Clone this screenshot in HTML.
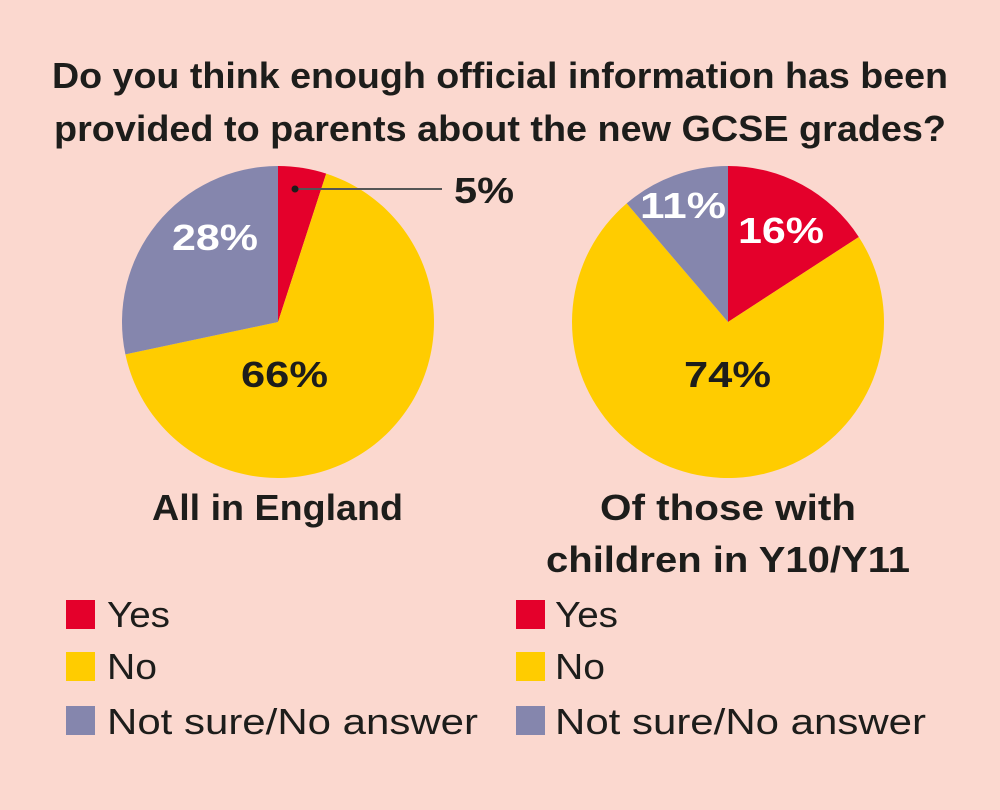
<!DOCTYPE html>
<html><head><style>
body{margin:0;background:#fbd8cf;}
svg{display:block}
text{font-family:"Liberation Sans",sans-serif;font-weight:bold;fill:#1d1d1b}
.n{font-weight:normal}
</style></head><body>
<svg width="1000" height="810" viewBox="0 0 1000 810">
<rect width="1000" height="810" fill="#fbd8cf"/>
<text x="52" y="88" font-size="36" textLength="896" lengthAdjust="spacingAndGlyphs">Do you think enough official information has been</text>
<text x="54" y="141" font-size="36" textLength="892" lengthAdjust="spacingAndGlyphs">provided to parents about the new GCSE grades?</text>
<path d="M278,322 L278,166 A156,156 0 0 1 326.2,173.6 Z" fill="#e4002b"/>
<path d="M278,322 L326.2,173.6 A156,156 0 1 1 125.4,354.4 Z" fill="#ffcc00"/>
<path d="M278,322 L125.4,354.4 A156,156 0 0 1 278,166 Z" fill="#8586ad"/>
<line x1="295" y1="189" x2="442" y2="189" stroke="#555" stroke-width="2"/>
<circle cx="295" cy="189" r="3.5" fill="#1d1d1b"/>
<text x="454" y="203" font-size="36" textLength="60" lengthAdjust="spacingAndGlyphs">5%</text>
<text x="172" y="250" font-size="36" textLength="86" lengthAdjust="spacingAndGlyphs" style="fill:#fff">28%</text>
<text x="241" y="387" font-size="36" textLength="87" lengthAdjust="spacingAndGlyphs">66%</text>
<text x="152" y="520" font-size="36" textLength="251" lengthAdjust="spacingAndGlyphs">All in England</text>
<path d="M728,322 L728,166 A156,156 0 0 1 858.8,237 Z" fill="#e4002b"/>
<path d="M728,322 L858.8,237 A156,156 0 1 1 626.7,203.4 Z" fill="#ffcc00"/>
<path d="M728,322 L626.7,203.4 A156,156 0 0 1 728,166 Z" fill="#8586ad"/>
<text x="640" y="218" font-size="36" textLength="86" lengthAdjust="spacingAndGlyphs" style="fill:#fff">11%</text>
<text x="738" y="243" font-size="36" textLength="86" lengthAdjust="spacingAndGlyphs" style="fill:#fff">16%</text>
<text x="684" y="387" font-size="36" textLength="87" lengthAdjust="spacingAndGlyphs">74%</text>
<text x="600" y="520" font-size="36" textLength="256" lengthAdjust="spacingAndGlyphs">Of those with</text>
<text x="546" y="572" font-size="36" textLength="364" lengthAdjust="spacingAndGlyphs">children in Y10/Y11</text>
<rect x="66" y="600" width="29" height="29" fill="#e4002b"/>
<text class="n" x="107" y="627" font-size="36" textLength="63" lengthAdjust="spacingAndGlyphs">Yes</text>
<rect x="66" y="652" width="29" height="29" fill="#ffcc00"/>
<text class="n" x="107" y="679" font-size="36" textLength="50" lengthAdjust="spacingAndGlyphs">No</text>
<rect x="66" y="706" width="29" height="29" fill="#8586ad"/>
<text class="n" x="107" y="734" font-size="36" textLength="371" lengthAdjust="spacingAndGlyphs">Not sure/No answer</text>
<rect x="516" y="600" width="29" height="29" fill="#e4002b"/>
<text class="n" x="555" y="627" font-size="36" textLength="63" lengthAdjust="spacingAndGlyphs">Yes</text>
<rect x="516" y="652" width="29" height="29" fill="#ffcc00"/>
<text class="n" x="555" y="679" font-size="36" textLength="50" lengthAdjust="spacingAndGlyphs">No</text>
<rect x="516" y="706" width="29" height="29" fill="#8586ad"/>
<text class="n" x="555" y="734" font-size="36" textLength="371" lengthAdjust="spacingAndGlyphs">Not sure/No answer</text>
</svg>
</body></html>
